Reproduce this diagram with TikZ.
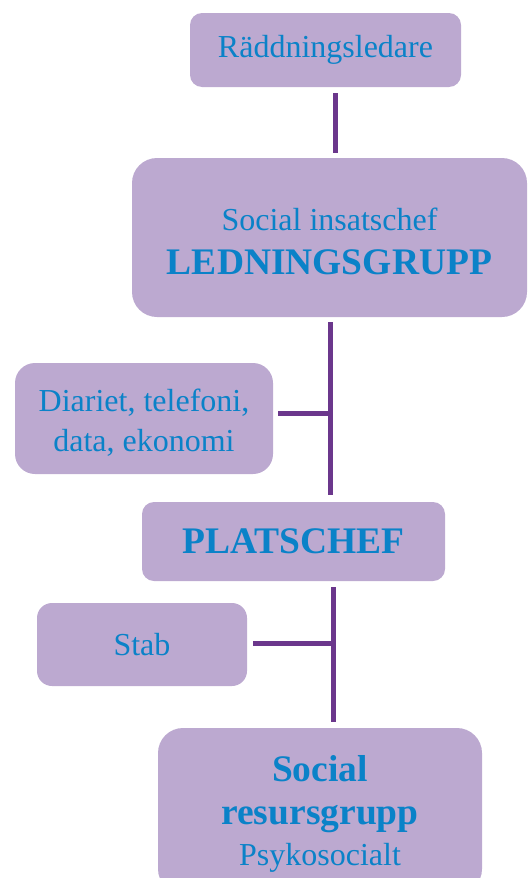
\documentclass[tikz,border=0pt]{standalone}
\usepackage{fontspec}
\setmainfont{Liberation Serif}
\definecolor{boxfill}{HTML}{BCA9D0}
\definecolor{txtblue}{HTML}{0A82C8}
\definecolor{linkcol}{HTML}{6B378C}
\tikzset{
  orgbox/.style={fill=boxfill, draw=none, text=txtblue, align=center, inner sep=0pt},
  reg/.style={font=\fontsize{32}{39}\selectfont},
  link/.style={draw=linkcol, line width=5pt}
}
\begin{document}
\begin{tikzpicture}[x=1pt,y=1pt]
\useasboundingbox (0,0) rectangle (528,-878);
\clip (0,0) rectangle (528,-878);
% boxes
\node[orgbox, reg, rounded corners=12pt, minimum width=271, minimum height=74] (rl) at (325.5,-50) {Räddningsledare};
\node[orgbox, font=\fontsize{37.5}{44}\selectfont\bfseries, rounded corners=25pt, minimum width=395, minimum height=159] (lg) at (329.5,-237.5)
  {\fontsize{32}{44}\selectfont\mdseries\rule{0pt}{30pt}Social insatschef\\LEDNINGSGRUPP};
\node[orgbox, font=\fontsize{32}{40}\selectfont, rounded corners=20pt, minimum width=258, minimum height=111] (di) at (144,-418.5)
  {\rule{0pt}{31pt}Diariet, telefoni,\\data, ekonomi};
\node[orgbox, font=\fontsize{37.5}{44}\selectfont\bfseries, rounded corners=12pt, minimum width=303, minimum height=79] (pc) at (293.5,-541.5)
  {PLATSCHEF};
\node[orgbox, reg, rounded corners=15pt, minimum width=210, minimum height=83] (st) at (142,-644.5) {Stab};
\node[orgbox, font=\fontsize{37.5}{43}\selectfont\bfseries, rounded corners=25pt, minimum width=324, minimum height=166] (sr) at (320,-811)
  {\rule{0pt}{32pt}Social\\resursgrupp\\[-2pt]\fontsize{32}{43}\selectfont\mdseries Psykosocialt};
% spine coordinates
\coordinate (c1) at (335,0);
\coordinate (c2) at (330,-413);
\coordinate (c3) at (333,-643);
% connectors
\draw[link, shorten <=6pt, shorten >=5pt] (rl.south -| c1) -- (lg.north -| c1);
\draw[link, shorten <=5pt, shorten >=7pt] (lg.south -| c2) -- (pc.north -| c2);
\draw[link, shorten <=5pt] (di.east |- c2) -- (c2);
\draw[link, shorten <=6pt, shorten >=6pt] (pc.south -| c3) -- (sr.north -| c3);
\draw[link, shorten <=6pt] (st.east |- c3) -- (c3);
\end{tikzpicture}
\end{document}
